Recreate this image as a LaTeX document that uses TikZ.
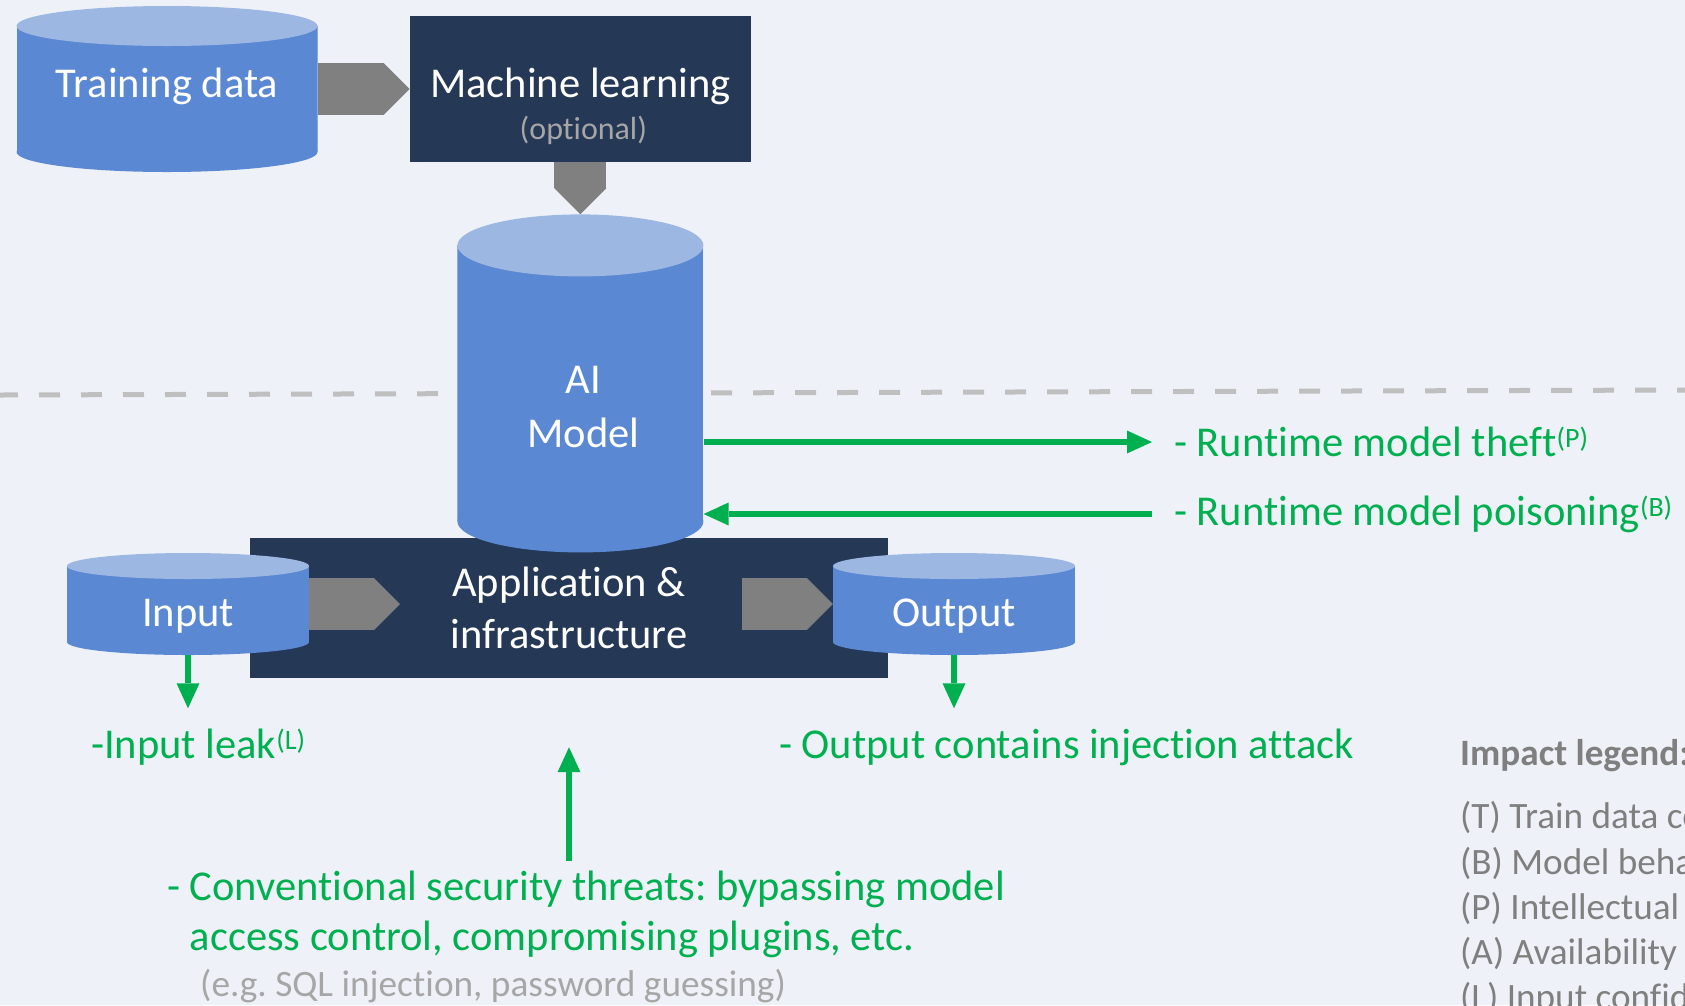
\documentclass[tikz,border=0pt]{standalone}
\usepackage{fontspec}
\setmainfont{Carlito}[Ligatures=NoCommon]
\usepackage{tikz}
\usetikzlibrary{arrows.meta,positioning}

\definecolor{canvas}{RGB}{238,242,248}
\definecolor{cylside}{RGB}{91,136,211}
\definecolor{cyllid}{RGB}{157,183,227}
\definecolor{navy}{RGB}{37,56,86}
\definecolor{flowgray}{RGB}{128,128,128}
\definecolor{threatgreen}{RGB}{0,176,80}
\definecolor{softgray}{RGB}{166,166,166}
\definecolor{dashgray}{RGB}{191,191,191}
\definecolor{legendgray}{RGB}{127,127,127}

% small raised impact code after a threat
\newcommand{\impact}[1]{\raisebox{9pt}{\fontsize{28}{28}\selectfont(#1)}}

\frenchspacing
\begin{document}
\begin{tikzpicture}[x=1pt,y=1pt,>={Triangle[length=25pt,width=23pt,line width=0pt]},
	font=\fontsize{42.5}{50}\selectfont]
	\tikzstyle{store}=[inner sep=0, text=white, path picture={
		\fill[cylside] ([yshift=-#1]path picture bounding box.north west) rectangle ([yshift=#1]path picture bounding box.south east);
		\fill[cylside] ([yshift=#1]path picture bounding box.south) ellipse [x radius=.5*\pgfkeysvalueof{/pgf/minimum width}, y radius=#1];
		\fill[cyllid] ([yshift=-#1]path picture bounding box.north) ellipse [x radius=.5*\pgfkeysvalueof{/pgf/minimum width}, y radius=#1];
	}]
	\tikzstyle{block}=[fill=navy, text=white, inner sep=0]
	\tikzstyle{flow}=[draw=flowgray, line width=52pt, -{Triangle[length=26pt,width=52pt,line width=0pt]}]
	\tikzstyle{threat}=[draw=threatgreen, line width=6.5pt, ->]
	\tikzstyle{threattext}=[text=threatgreen, inner sep=0]
	\tikzstyle{notetext}=[text=softgray, inner sep=0, font=\fontsize{37.3}{44}\selectfont]
	\tikzstyle{legendtext}=[text=legendgray, inner sep=0, font=\fontsize{37.2}{44}\selectfont]
	\tikzstyle{boundary}=[draw=dashgray, line width=5pt, dash pattern=on 21pt off 21pt, dash phase=3pt]

	\useasboundingbox (0,0) rectangle (1685,-1005);
	\clip (0,0) rectangle (1685,-1005);
	\fill[canvas] (0,0) rectangle (1685,-1005);

	% build time above the line, run time below
	\draw[boundary] (0,-395) -- (1685,-390);

	\node[store=20, minimum width=301, minimum height=166, text height=24, text depth=8] (train) at (167,-89) {Training data};
	\node[block, minimum width=341, minimum height=146, text height=24, text depth=8] (ml) [right=92pt of train] {Machine learning};
	\node[notetext, anchor=base, font=\fontsize{32}{38}\selectfont] (optional) at ([xshift=3,yshift=-50]ml.center) {(optional)};

	\node[block, minimum width=638, minimum height=140, align=center, font=\fontsize{42.5}{52}\selectfont] (app) at (569,-608) {Application \&\\infrastructure};
	\coordinate (appin) at (400,-604);
	\coordinate (appout) at (742,-604);

	\node[store=13, minimum width=242, minimum height=102, text height=52, text depth=8] (input) at (188,-604) {Input};
	\node[store=13, minimum width=242, minimum height=102, text height=52, text depth=8] (output) at (954,-604) {Output};
	\node[store=31, minimum width=246, minimum height=338] (model) [below=52pt of ml] {};
	\node[align=center, text=white, inner sep=0, font=\fontsize{42.5}{54}\selectfont] (modeltext) at ([xshift=3,yshift=-24]model.center) {AI\\Model};

	\path (train) edge[flow] (ml);
	\path (ml) edge[flow] (model);
	\path (input) edge[flow] (appin);
	\path (appout) edge[flow] (output);

	% threats
	\node[threattext, anchor=west] (theft) at (1174,-442) {- Runtime model theft\impact{P}};
	\node[threattext, anchor=west] (poison) at (1174,-514) {- Runtime model poisoning\impact{B}};
	\node[threattext, anchor=base west] (leak) at (91,-758) {-Input leak\impact{L}};
	\node[threattext, anchor=base west] (inject) at (779,-758) {- Output contains injection attack};
	\node[threattext, anchor=north west, align=left, font=\fontsize{42.5}{50}\selectfont] (conv) at (167,-871) {- Conventional security threats: bypassing model\\\phantom{-~}access control, compromising plugins, etc.};
	\node[notetext, anchor=base west] (eg) at (200,-996) {(e.g. SQL injection, password guessing)};

	\path (model.east |- theft.west) edge[threat, shorten >=22pt] (theft.west);
	\path (poison.west) edge[threat, shorten <=22pt] (model.east |- poison.west);
	\path (input.south) edge[threat, shorten >=20pt] (input.south |- leak.north);
	\path (output.south) edge[threat, shorten >=20pt] (output.south |- inject.north);
	\path (app.south |- conv.north) edge[threat, shorten <=10pt, shorten >=69pt] (app.south);

	% impact legend
	\node[legendtext, anchor=base west, font=\fontsize{37.2}{44}\bfseries] (legend) at (1460,-765) {Impact legend:};
	\node[legendtext, anchor=base west] (legT) at (1460,-828) {(T) Train data confidentiality};
	\node[legendtext, anchor=base west] (legB) at (1460,-874) {(B) Model behaviour integrity};
	\node[legendtext, anchor=base west] (legP) at (1460,-919) {(P) Intellectual property confidentiality};
	\node[legendtext, anchor=base west] (legA) at (1460,-964) {(A) Availability};
	\node[legendtext, anchor=base west] (legL) at (1460,-1009) {(L) Input confidentiality};
\end{tikzpicture}
\end{document}
